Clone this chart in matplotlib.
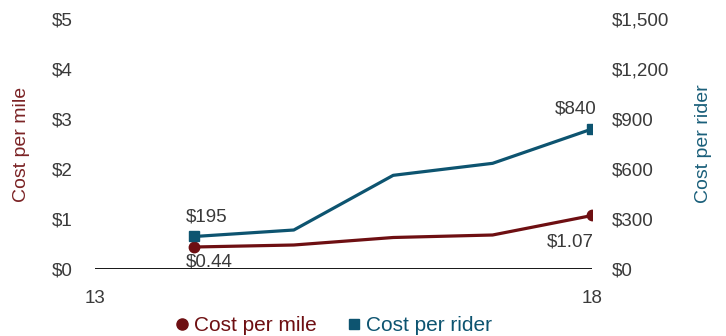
import matplotlib
matplotlib.use("Agg")
import matplotlib.pyplot as plt
from matplotlib.lines import Line2D

# ── Data ──────────────────────────────────────────────────────────────────────
years          = [14, 15, 16, 17, 18]
cost_per_mile  = [0.44, 0.48, 0.63, 0.68, 1.07]
cost_per_rider = [195, 234, 562, 634, 840]

left_ticks   = [0, 1, 2, 3, 4, 5]
left_labels  = ["$0", "$1", "$2", "$3", "$4", "$5"]
right_ticks  = [0, 300, 600, 900, 1200, 1500]
right_labels = ["$0", "$300", "$600", "$900", "$1,200", "$1,500"]
x_ticks      = [13, 18]

# ── Style ─────────────────────────────────────────────────────────────────────
RED  = "#6e0f12"
BLUE = "#0d5470"
GREY = "#3a3a3a"
FS   = 13.5
plt.rcParams["font.family"] = ["Liberation Sans", "DejaVu Sans"]

fig = plt.figure(figsize=(7.26, 3.36), dpi=100)
ax = fig.add_axes([0.1309, 0.1994, 0.6845, 0.7441])
ax2 = ax.twinx()

ax.plot(years, cost_per_mile, color=RED, linewidth=2.3)
ax.plot(years[0], cost_per_mile[0], "o", color=RED, markersize=7.5)
ax.plot(years[-1], cost_per_mile[-1], "o", color=RED, markersize=7.5)

ax2.plot(years, cost_per_rider, color=BLUE, linewidth=2.3)
ax2.plot(years[0], cost_per_rider[0], "s", color=BLUE, markersize=7.5)
ax2.plot(years[-1], cost_per_rider[-1], "s", color=BLUE, markersize=7.5)

ax.axhline(0, color="black", linewidth=2, zorder=5)

ax.set_xlim(13, 18)
ax.set_ylim(0, 5)
ax2.set_ylim(0, 1500)

ax.set_xticks(x_ticks)
ax.set_xticklabels([str(t) for t in x_ticks])
ax.set_yticks(left_ticks)
ax.set_yticklabels(left_labels)
ax2.set_yticks(right_ticks)
ax2.set_yticklabels(right_labels)

for a in (ax, ax2):
    for s in a.spines.values():
        s.set_visible(False)
    a.tick_params(length=0, labelsize=FS, colors=GREY)
ax.tick_params(axis="y", pad=16)
ax.tick_params(axis="x", pad=15)
ax2.tick_params(axis="y", pad=14)

ax.set_ylabel("Cost per mile", color="#7b2325", fontsize=14, labelpad=16)
ax2.set_ylabel("Cost per rider", color="#1a5f7a", fontsize=14, labelpad=19)

# value labels (baseline-anchored, offsets in points)
ax2.annotate(f"${cost_per_rider[0]}", (years[0], cost_per_rider[0]),
             xytext=(-6.5, 11), textcoords="offset points", ha="left",
             va="baseline", fontsize=FS, color=GREY)
ax.annotate(f"${cost_per_mile[0]:.2f}", (years[0], cost_per_mile[0]),
            xytext=(-6.5, -14), textcoords="offset points", ha="left",
            va="baseline", fontsize=FS, color=GREY, zorder=3)
ax2.annotate(f"${cost_per_rider[-1]}", (years[-1], cost_per_rider[-1]),
             xytext=(3, 11), textcoords="offset points", ha="right",
             va="baseline", fontsize=FS, color=GREY)
ax.annotate(f"${cost_per_mile[-1]:.2f}", (years[-1], cost_per_mile[-1]),
            xytext=(1, -22.5), textcoords="offset points", ha="right",
            va="baseline", fontsize=FS, color=GREY)

# legend
handles = [
    Line2D([], [], marker="o", linestyle="none", color=RED, markersize=8),
    Line2D([], [], marker="s", linestyle="none", color=BLUE, markersize=7),
]
leg = fig.legend(handles, ["Cost per mile", "Cost per rider"],
                 loc="center", bbox_to_anchor=(0.457, 0.03), ncol=2,
                 frameon=False, fontsize=15, handletextpad=0.05,
                 columnspacing=1.3, handlelength=1.0)
for txt, c in zip(leg.get_texts(), [RED, BLUE]):
    txt.set_color(c)

fig.savefig("out.png", dpi=100)
